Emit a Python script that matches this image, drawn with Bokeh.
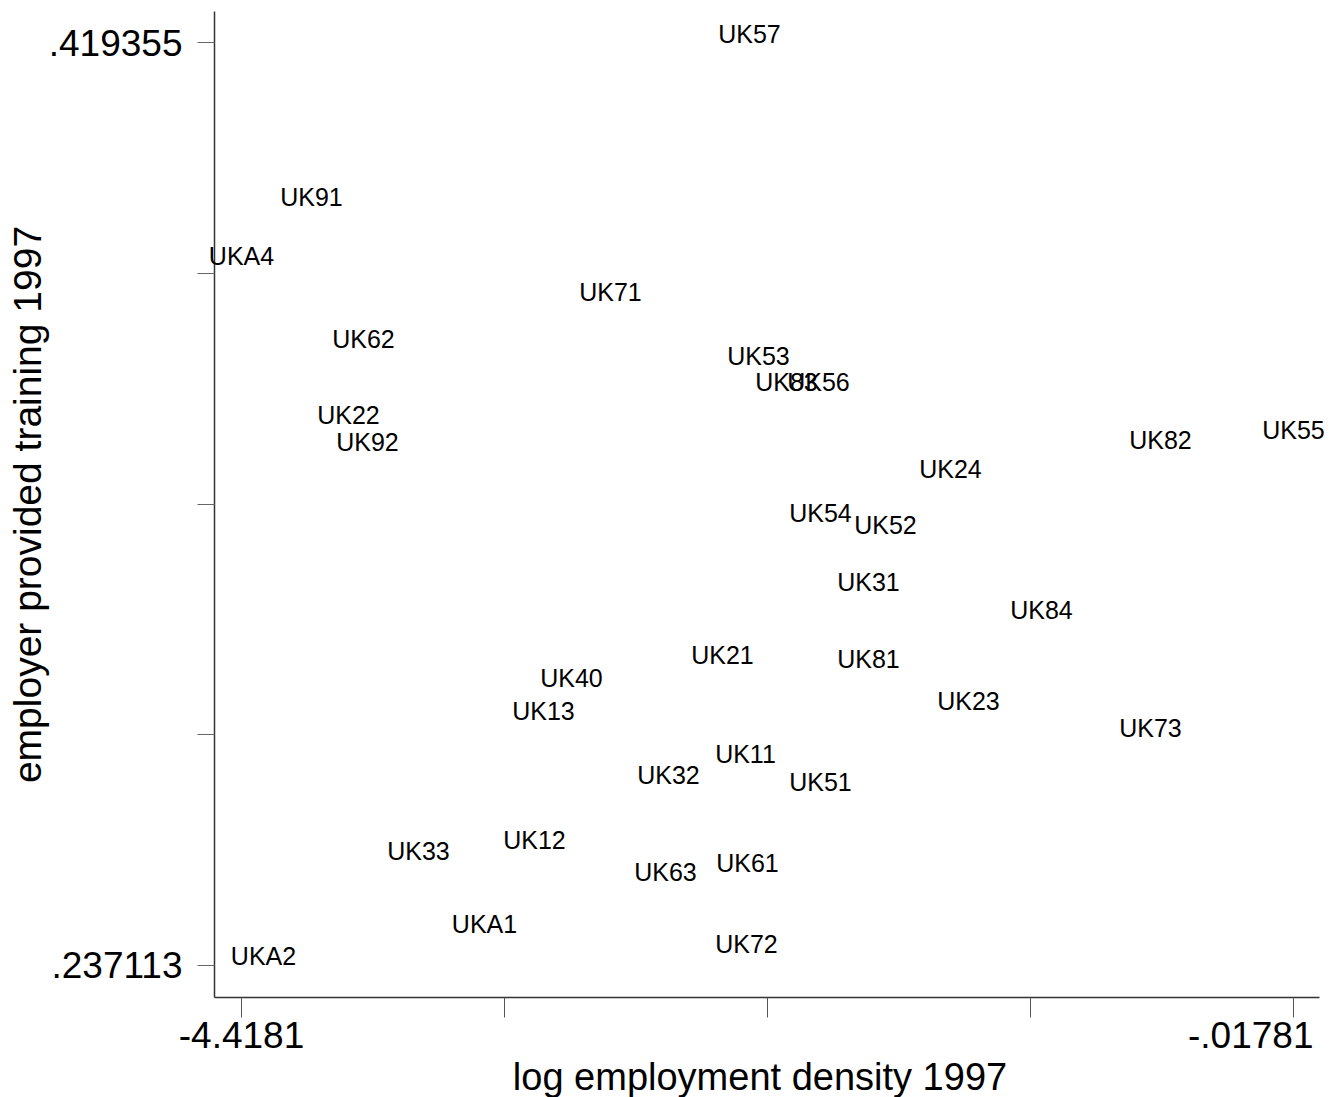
import math
from bokeh.plotting import figure
from bokeh.models import Range1d, FixedTicker, LabelSet, Label, ColumnDataSource
from bokeh.core.properties import value
from bokeh.embed import file_html
from bokeh.resources import INLINE

regions = ["UK57", "UK91", "UKA4", "UK71", "UK62", "UK53", "UK83", "UK56",
           "UK22", "UK92", "UK82", "UK55", "UK24", "UK54", "UK52", "UK31",
           "UK84", "UK21", "UK81", "UK40", "UK23", "UK13", "UK73", "UK11",
           "UK32", "UK51", "UK12", "UK33", "UK61", "UK63", "UKA1", "UK72", "UKA2"]
log_density = [-2.2932, -4.1253, -4.4181, -2.8746, -3.9078, -2.2556, -2.1385, -2.0046,
               -3.9705, -3.8911, -0.5741, -0.01781, -1.4525, -1.9963, -1.7244, -1.7955,
               -1.0719, -2.4062, -1.7955, -3.0378, -1.3772, -3.1549, -0.6159, -2.3100,
               -2.6320, -1.9963, -3.1925, -3.6777, -2.3016, -2.6446, -3.4017, -2.3058, -4.3261]
training = [0.419355, 0.38702, 0.37537, 0.36826, 0.35898, 0.35562, 0.35049, 0.35049,
            0.34398, 0.33864, 0.33904, 0.34101, 0.33331, 0.32463, 0.32226, 0.31100,
            0.30547, 0.29659, 0.29580, 0.29205, 0.28751, 0.28553, 0.28218, 0.27704,
            0.27290, 0.27151, 0.26006, 0.25789, 0.25552, 0.25375, 0.24348, 0.23953, 0.237113]

x_ticks = [-4.4181, -3.3180275, -2.217955, -1.1178825, -0.01781]
x_tick_labels = ["-4.4181", "", "", "", "-.01781"]
y_ticks = [0.237113, 0.2826735, 0.328234, 0.3737945, 0.419355]
y_tick_labels = [".237113", "", "", "", ".419355"]
x_title = "log employment density 1997"
y_title = "employer provided training 1997"

FONT = "Liberation Sans"
# visible plot region (axis extents) and the whole-canvas data window
X_AXIS_BOUNDS = (-4.53103, 0.09094)
Y_AXIS_BOUNDS = (0.230795, 0.425476)
X_VIEW = (-5.42615, 0.17878)
Y_VIEW = (0.211050, 0.427648)

p = figure(width=1340, height=1097, output_backend="svg", toolbar_location=None,
           x_range=Range1d(*X_VIEW), y_range=Range1d(*Y_VIEW),
           min_border_left=0, min_border_right=0, min_border_top=0,
           min_border_bottom=0)
p.outline_line_color = None
p.xgrid.visible = False
p.ygrid.visible = False
p.background_fill_color = "white"
p.border_fill_color = "white"

# y axis
ya = p.yaxis[0]
ya.fixed_location = X_AXIS_BOUNDS[0]
ya.bounds = Y_AXIS_BOUNDS
ya.ticker = FixedTicker(ticks=y_ticks)
ya.major_label_overrides = {t: l for t, l in zip(y_ticks, y_tick_labels)}
ya.major_label_text_font = FONT
ya.major_label_text_font_size = "37px"
ya.major_label_text_color = "black"
ya.major_label_standoff = 15
ya.major_tick_out = 17
ya.major_tick_in = 0
ya.minor_tick_out = 0
ya.minor_tick_in = 0
ya.axis_line_color = "#333333"
ya.axis_line_width = 1.5
ya.major_tick_line_color = "#666666"
ya.major_tick_line_width = 1

# x axis
xa = p.xaxis[0]
xa.fixed_location = Y_AXIS_BOUNDS[0]
xa.bounds = X_AXIS_BOUNDS
xa.ticker = FixedTicker(ticks=x_ticks)
xa.major_label_overrides = {t: "" for t in x_ticks}
xa.major_tick_out = 20
xa.major_tick_in = 0
xa.minor_tick_out = 0
xa.minor_tick_in = 0
xa.axis_line_color = "#333333"
xa.axis_line_width = 1.5
xa.major_tick_line_color = "#555555"
xa.major_tick_line_width = 1

# x tick labels (Stata keeps the last one inside the graph)
for t, lab in zip(x_ticks, x_tick_labels):
    if not lab:
        continue
    last = t == x_ticks[-1]
    p.add_layout(Label(x=t, y=Y_AXIS_BOUNDS[0], x_offset=20 if last else 0, y_offset=-38,
                       text=lab, text_align="right" if last else "center",
                       text_baseline="alphabetic", text_font=FONT,
                       text_font_size="37px", text_color="black"))

# axis titles
p.add_layout(Label(x=sum(X_AXIS_BOUNDS) / 2, y=Y_AXIS_BOUNDS[0], x_offset=-7, y_offset=-80,
                   text=x_title, text_align="center", text_baseline="alphabetic",
                   text_font=FONT, text_font_size="38px", text_color="black"))
p.add_layout(Label(x=X_AXIS_BOUNDS[0], y=sum(Y_AXIS_BOUNDS) / 2, x_offset=-187,
                   text=y_title, angle=math.pi / 2, text_align="center",
                   text_baseline="alphabetic", text_font=FONT,
                   text_font_size="39px", text_color="black"))

src = ColumnDataSource(dict(x=log_density, y=training, name=regions))
labels = LabelSet(x="x", y="y", text="name", source=src,
                  text_align="center", text_baseline="alphabetic",
                  text_font=value(FONT), text_font_size=value("25px"),
                  text_color="black")
p.add_layout(labels)

open("out.html", "w").write(file_html(p, INLINE))
